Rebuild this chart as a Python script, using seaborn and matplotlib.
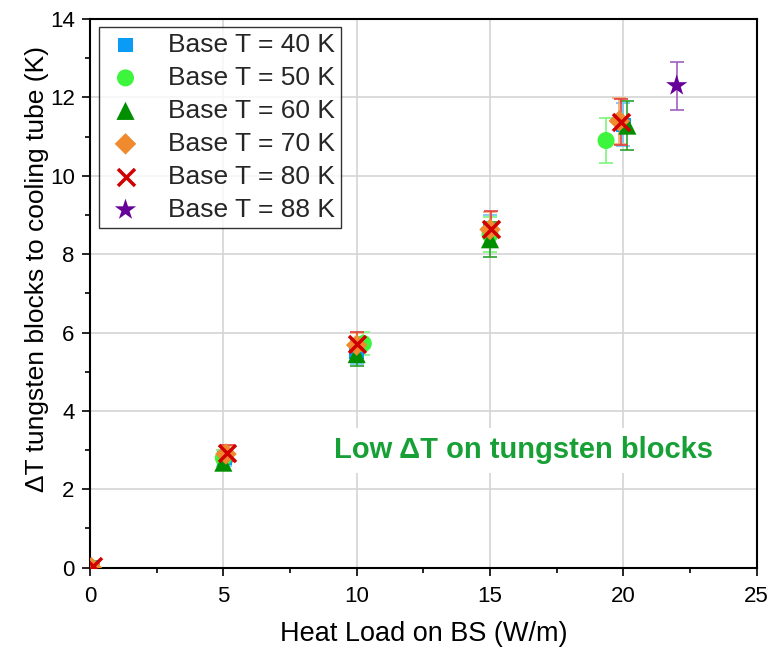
import numpy as np
import pandas as pd
import matplotlib
matplotlib.use("Agg")
import matplotlib.pyplot as plt
import seaborn as sns
from matplotlib.ticker import MultipleLocator

# Measured temperature rise of the tungsten blocks vs heat load, per base temperature
x_40 = [0.05, 5.05, 10.0, 15.0, 20.0]
y_40 = [0.0, 2.80, 5.50, 8.60, 11.30]
e_40 = [0.05, 0.20, 0.30, 0.40, 0.55]

x_50 = [0.05, 5.0, 10.25, 15.0, 19.35]
y_50 = [0.0, 2.80, 5.72, 8.50, 10.90]
e_50 = [0.05, 0.20, 0.30, 0.45, 0.57]

x_60 = [0.05, 5.0, 10.0, 15.0, 20.15]
y_60 = [0.0, 2.68, 5.45, 8.38, 11.28]
e_60 = [0.05, 0.18, 0.30, 0.45, 0.62]

x_70 = [0.05, 5.1, 10.0, 15.0, 19.85]
y_70 = [0.0, 2.90, 5.68, 8.63, 11.40]
e_70 = [0.05, 0.20, 0.30, 0.45, 0.58]

x_80 = [0.1, 5.15, 10.0, 15.05, 19.9]
y_80 = [0.05, 2.92, 5.72, 8.65, 11.37]
e_80 = [0.05, 0.20, 0.30, 0.46, 0.58]

x_88 = [22.0]
y_88 = [12.30]
e_88 = [0.61]

labels = ["Base T = 40 K", "Base T = 50 K", "Base T = 60 K",
          "Base T = 70 K", "Base T = 80 K", "Base T = 88 K"]

sns.set_theme(style="white")
plt.rcParams["font.family"] = ["Liberation Sans", "DejaVu Sans"]

fig = plt.figure(figsize=(7.69, 6.47), dpi=100)
ax = fig.add_axes([0.117, 0.1226, 0.867, 0.848])

series = [
    (x_40, y_40, e_40, "#0a9bf5", "#6cc4f7", "s", 110),
    (x_50, y_50, e_50, "#3cf53c", "#7cf57c", "o", 150),
    (x_60, y_60, e_60, "#008f00", "#2aa02a", "^", 170),
    (x_70, y_70, e_70, "#f08a2e", "#f4a868", "D", 120),
    (x_80, y_80, e_80, "#d10000", "#e04040", "X_", 150),
    (x_88, y_88, e_88, "#660099", "#a060c0", "*", 260),
]

for (xs, ys, es, col, ecol, mk, sz), lab in zip(series, labels):
    ax.errorbar(xs, ys, yerr=es, fmt="none", ecolor=ecol, elinewidth=1.2,
                capsize=5, capthick=1.2, zorder=2)
    df = pd.DataFrame({"x": xs, "y": ys})
    if mk == "X_":
        sns.scatterplot(data=df, x="x", y="y", ax=ax, marker="x", s=sz,
                        color=col, linewidth=2.5, label=lab, zorder=3)
    else:
        sns.scatterplot(data=df, x="x", y="y", ax=ax, marker=mk, s=sz,
                        color=col, edgecolor="none", linewidth=0,
                        label=lab, zorder=3)

ax.set_xlim(0, 25)
ax.set_ylim(0, 14)
ax.xaxis.set_major_locator(MultipleLocator(5))
ax.xaxis.set_minor_locator(MultipleLocator(2.5))
ax.yaxis.set_major_locator(MultipleLocator(2))
ax.yaxis.set_minor_locator(MultipleLocator(1))
ax.grid(True, which="major", color="#d4d4d4", linewidth=1.2)
ax.set_axisbelow(True)

for sp in ax.spines.values():
    sp.set_color("black")
    sp.set_linewidth(1.5)

ax.tick_params(axis="both", which="major", direction="out", length=6, width=1.2,
               labelsize=16, color="black", labelcolor="black",
               bottom=True, left=True, top=False, right=False, pad=5)
ax.tick_params(axis="x", which="major", pad=7)
ax.tick_params(axis="both", which="minor", direction="out", length=3.5, width=1.2,
               color="black", bottom=True, left=True, top=False, right=False)

ax.set_xlabel("Heat Load on BS (W/m)", fontsize=19.5, labelpad=10, color="black")
ax.set_ylabel("\u0394T tungsten blocks to cooling tube (K)", fontsize=19,
              color="black")
ax.yaxis.set_label_coords(-0.062, 0.545)

ax.text(16.25, 3.0, "Low \u0394T on tungsten blocks", color="#16a035",
        fontsize=21, fontweight="bold", ha="center", va="center", zorder=4,
        bbox=dict(facecolor="white", edgecolor="none", pad=6))

leg = ax.legend(loc="upper left", bbox_to_anchor=(0.005, 0.995), fontsize=19,
                frameon=True, fancybox=False, edgecolor="black",
                handletextpad=0.8, borderpad=0.22, labelspacing=0.34,
                handlelength=1.6, borderaxespad=0.2)
leg.get_frame().set_linewidth(1.0)

fig.savefig("out.png", dpi=100)
